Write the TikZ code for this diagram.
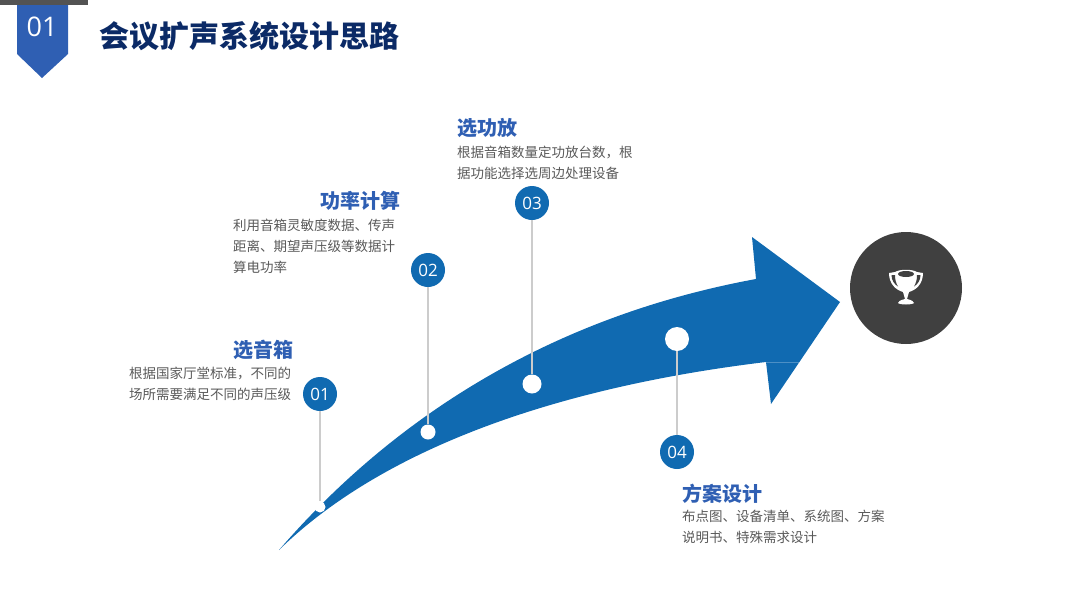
\documentclass[tikz,border=0pt]{standalone}
\usepackage{fontspec}
\usepackage{xcolor}
\setmainfont{Noto Sans CJK SC}
\newfontfamily\numfont{Open Sans}
\usetikzlibrary{positioning}
\definecolor{arrowblue}{HTML}{106AB1}
\definecolor{headblue}{HTML}{2F5FB3}
\definecolor{titlenavy}{HTML}{0B2A66}
\definecolor{bodygray}{HTML}{595959}
\definecolor{darkdisc}{HTML}{404040}
\definecolor{linegray}{HTML}{CCCCCC}

\begin{document}
\begin{tikzpicture}[
  x=1pt, y=-1pt,
  numdisc/.style={circle, fill=arrowblue, text=white, minimum size=34pt, inner sep=0pt,
                  font=\fontsize{17}{17}\selectfont\numfont},
  dot/.style={circle, fill=white, inner sep=0pt},
  head/.style={text=headblue, font=\fontsize{20}{22}\selectfont\bfseries, inner sep=0pt},
  body/.style={text=bodygray, font=\fontsize{13.5}{21}\selectfont, align=left, inner sep=0pt},
  stem/.style={draw=linegray, line width=1.3pt}
]
\useasboundingbox (0,0) rectangle (1080,608);
% header
\fill[darkdisc!90] (0,0) rectangle (88,5);
\fill[headblue] (17,5) -- (68,5) -- (68,54) -- (42,78) -- (17,54) -- cycle;
\node[text=white, font=\fontsize{27}{27}\selectfont\numfont, inner sep=0pt] (secnum) at (42,27) {01};
\node[text=titlenavy, font=\fontsize{30}{32}\selectfont\bfseries, inner sep=0pt, anchor=west] (title) at (99,36) {会议扩声系统设计思路};
% arrow
\fill[arrowblue] (279,550) .. controls (400,410) and (560,315) .. (756,279)
  -- (752,237) -- (840,302) -- (771,404) -- (766,362)
  .. controls (600,382) and (400,432) .. (279,550) -- cycle;
\draw[arrowblue!75!white, line width=0.5pt] (766,362) -- (799,362);
% points on the arrow
\node[dot, minimum size=11pt] (p1) at (320,507) {};
\node[dot, minimum size=15pt] (p2) at (428,432) {};
\node[dot, minimum size=19pt] (p3) at (532,384) {};
\node[dot, minimum size=24pt] (p4) at (677,339) {};
\node[numdisc] (n1) at (320,394) {01};
\node[numdisc] (n2) at (428,270) {02};
\node[numdisc] (n3) at (532,203) {03};
\node[numdisc] (n4) at (677,452) {04};
\draw[stem] (n1) -- (p1);
\draw[stem] (n2) -- (p2);
\draw[stem] (n3) -- (p3);
\draw[stem] (n4) -- (p4);
% labels
\node[head, anchor=west] (h1) at (233,350) {选音箱};
\node[body, anchor=north west] (b1) at (129,367) {根据国家厅堂标准，不同的\\场所需要满足不同的声压级};
\node[head, anchor=west] (h2) at (320,201) {功率计算};
\node[body, anchor=north west] (b2) at (233,219) {利用音箱灵敏度数据、传声\\距离、期望声压级等数据计\\算电功率};
\node[head, anchor=west] (h3) at (457,128) {选功放};
\node[body, anchor=north west] (b3) at (457,145.5) {根据音箱数量定功放台数，根\\据功能选择选周边处理设备};
\node[head, anchor=west] (h4) at (682,494) {方案设计};
\node[body, anchor=north west] (b4) at (682,510) {布点图、设备清单、系统图、方案\\说明书、特殊需求设计};
% result disc with trophy
\node[circle, fill=darkdisc, minimum size=112pt, inner sep=0pt] (goal) at (906,288) {};
\fill[white] (895,272) .. controls (900,269) and (912,269) .. (917,272)
  -- (923,273) .. controls (923,284) and (916,290) .. (909,292)
  -- (907,299) .. controls (912,300) and (914,302) .. (914,303)
  .. controls (912,305) and (900,305) .. (898,303)
  .. controls (898,302) and (900,300) .. (905,299)
  -- (903,292) .. controls (896,290) and (889,284) .. (889,273) -- cycle;
\fill[darkdisc] (891.5,275) -- (895,275) .. controls (895,280) and (896,283) .. (898,286.5)
  .. controls (894,284) and (891.5,280) .. (891.5,275) -- cycle;
\fill[darkdisc] (920.5,275) -- (917,275) .. controls (917,280) and (916,283) .. (914,286.5)
  .. controls (918,284) and (920.5,280) .. (920.5,275) -- cycle;
\fill[darkdisc] (906,274) ellipse (8pt and 3pt);
\end{tikzpicture}
\end{document}
